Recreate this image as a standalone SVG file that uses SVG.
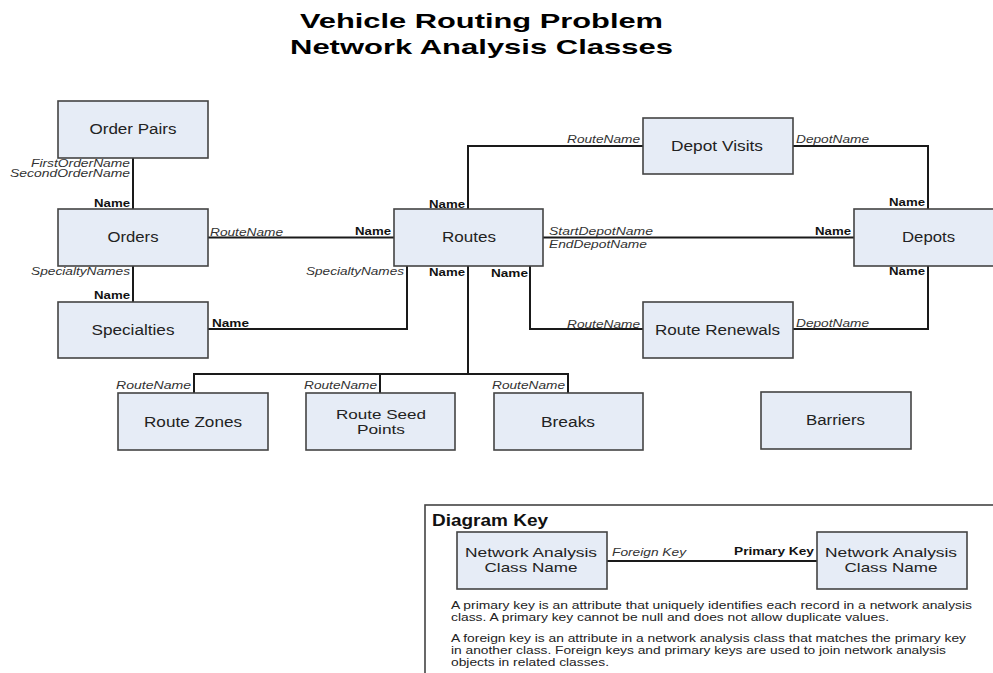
<svg xmlns="http://www.w3.org/2000/svg" width="993" height="673" viewBox="0 0 993 673">
  <style>
    text { font-family: "Liberation Sans", Arial, sans-serif; }
    .box { fill: #e6ecf6; stroke: #444; stroke-width: 1.6; }
    .lbl { font-size: 14px; fill: #222; text-anchor: middle; }
    .lbl2 { font-size: 13px; fill: #222; text-anchor: middle; }
    .pk { font-size: 10px; font-weight: bold; fill: #111; }
    .fk { font-size: 10px; font-style: italic; fill: #333; }
    .end { text-anchor: end; }
    .conn { fill: none; stroke: #1a1a1a; stroke-width: 2; }
    .title { font-size: 21px; font-weight: bold; fill: #000; text-anchor: middle; }
    .para { font-size: 10px; fill: #222; }
  </style>
  <rect width="993" height="673" fill="#fff"/>

  <text class="title" x="481.5" y="28" textLength="363" lengthAdjust="spacingAndGlyphs">Vehicle Routing Problem</text>
  <text class="title" x="481.5" y="54" textLength="383" lengthAdjust="spacingAndGlyphs">Network Analysis Classes</text>

  <!-- relationships -->
  <g id="connectors">
    <path class="conn" d="M133 158 V209"/>
    <path class="conn" d="M133 266 V302"/>
    <path class="conn" d="M208 237.5 H394"/>
    <path class="conn" d="M407 266 V329 H208"/>
    <path class="conn" d="M468 209 V146 H643"/>
    <path class="conn" d="M793 146 H928 V209"/>
    <path class="conn" d="M543 237.5 H854"/>
    <path class="conn" d="M530 266 V329 H643"/>
    <path class="conn" d="M793 329 H928 V266"/>
    <path class="conn" d="M468 266 V374"/>
    <path class="conn" d="M194 393 V374 H568 V393"/>
    <path class="conn" d="M380 374 V393"/>
  </g>

  <!-- key labels -->
  <g id="labels">
    <text class="fk end" x="130" y="167" textLength="99" lengthAdjust="spacingAndGlyphs">FirstOrderName</text>
    <text class="fk end" x="130" y="177" textLength="120" lengthAdjust="spacingAndGlyphs">SecondOrderName</text>
    <text class="pk end" x="130" y="207" textLength="36" lengthAdjust="spacingAndGlyphs">Name</text>
    <text class="fk end" x="130" y="275" textLength="99" lengthAdjust="spacingAndGlyphs">SpecialtyNames</text>
    <text class="pk end" x="130" y="299" textLength="36" lengthAdjust="spacingAndGlyphs">Name</text>
    <text class="fk" x="210" y="236" textLength="73" lengthAdjust="spacingAndGlyphs">RouteName</text>
    <text class="pk end" x="391" y="235" textLength="36" lengthAdjust="spacingAndGlyphs">Name</text>
    <text class="pk" x="212" y="327" textLength="37" lengthAdjust="spacingAndGlyphs">Name</text>
    <text class="fk end" x="404" y="275" textLength="98" lengthAdjust="spacingAndGlyphs">SpecialtyNames</text>
    <text class="pk end" x="465" y="208" textLength="36" lengthAdjust="spacingAndGlyphs">Name</text>
    <text class="pk end" x="465" y="276" textLength="36" lengthAdjust="spacingAndGlyphs">Name</text>
    <text class="pk" x="491" y="277" textLength="37" lengthAdjust="spacingAndGlyphs">Name</text>
    <text class="fk end" x="640" y="143" textLength="73" lengthAdjust="spacingAndGlyphs">RouteName</text>
    <text class="fk" x="796" y="143" textLength="73" lengthAdjust="spacingAndGlyphs">DepotName</text>
    <text class="pk end" x="925" y="206" textLength="36" lengthAdjust="spacingAndGlyphs">Name</text>
    <text class="fk" x="549" y="235" textLength="104" lengthAdjust="spacingAndGlyphs">StartDepotName</text>
    <text class="fk" x="549" y="248" textLength="98" lengthAdjust="spacingAndGlyphs">EndDepotName</text>
    <text class="pk end" x="851" y="235" textLength="36" lengthAdjust="spacingAndGlyphs">Name</text>
    <text class="pk end" x="925" y="275" textLength="36" lengthAdjust="spacingAndGlyphs">Name</text>
    <text class="fk end" x="640" y="328" textLength="73" lengthAdjust="spacingAndGlyphs">RouteName</text>
    <text class="fk" x="796" y="327" textLength="73" lengthAdjust="spacingAndGlyphs">DepotName</text>
    <text class="fk end" x="191" y="389" textLength="75" lengthAdjust="spacingAndGlyphs">RouteName</text>
    <text class="fk end" x="377" y="389" textLength="73" lengthAdjust="spacingAndGlyphs">RouteName</text>
    <text class="fk end" x="565" y="389" textLength="73" lengthAdjust="spacingAndGlyphs">RouteName</text>
  </g>

  <g id="order-pairs"><rect class="box" x="58" y="101" width="150" height="57"/><text class="lbl" x="133" y="134" textLength="87" lengthAdjust="spacingAndGlyphs">Order Pairs</text></g>
  <g id="orders"><rect class="box" x="58" y="209" width="150" height="57"/><text class="lbl" x="133" y="242" textLength="51" lengthAdjust="spacingAndGlyphs">Orders</text></g>
  <g id="specialties"><rect class="box" x="58" y="302" width="150" height="56"/><text class="lbl" x="133" y="335" textLength="83" lengthAdjust="spacingAndGlyphs">Specialties</text></g>
  <g id="routes"><rect class="box" x="394" y="209" width="149" height="57"/><text class="lbl" x="469" y="242" textLength="54" lengthAdjust="spacingAndGlyphs">Routes</text></g>
  <g id="depot-visits"><rect class="box" x="643" y="118" width="150" height="56"/><text class="lbl" x="717" y="151" textLength="92" lengthAdjust="spacingAndGlyphs">Depot Visits</text></g>
  <g id="depots"><rect class="box" x="854" y="209" width="150" height="57"/><text class="lbl" x="928.5" y="242" textLength="53" lengthAdjust="spacingAndGlyphs">Depots</text></g>
  <g id="route-renewals"><rect class="box" x="643" y="302" width="150" height="56"/><text class="lbl" x="717.5" y="335" textLength="125" lengthAdjust="spacingAndGlyphs">Route Renewals</text></g>
  <g id="route-zones"><rect class="box" x="118" y="393" width="150" height="57"/><text class="lbl" x="193" y="427" textLength="98" lengthAdjust="spacingAndGlyphs">Route Zones</text></g>
  <g id="route-seed-points"><rect class="box" x="306" y="393" width="149" height="57"/><text class="lbl2" x="381" y="419" textLength="90" lengthAdjust="spacingAndGlyphs">Route Seed</text><text class="lbl2" x="381" y="433.5" textLength="48" lengthAdjust="spacingAndGlyphs">Points</text></g>
  <g id="breaks"><rect class="box" x="494" y="393" width="149" height="57"/><text class="lbl" x="568" y="427" textLength="54" lengthAdjust="spacingAndGlyphs">Breaks</text></g>
  <g id="barriers"><rect class="box" x="761" y="392" width="150" height="57"/><text class="lbl" x="835.5" y="425" textLength="59" lengthAdjust="spacingAndGlyphs">Barriers</text></g>

  <!-- legend -->
  <g id="diagram-key">
    <rect x="425" y="505" width="580" height="180" fill="#fff" stroke="#444" stroke-width="1.6"/>
    <text x="432" y="526" font-size="16" font-weight="bold" fill="#111" textLength="116" lengthAdjust="spacingAndGlyphs">Diagram Key</text>
    <path class="conn" d="M607 561 H817"/>
    <rect class="box" x="457" y="532" width="150" height="57"/>
    <text class="lbl2" x="531" y="557" textLength="132" lengthAdjust="spacingAndGlyphs">Network Analysis</text>
    <text class="lbl2" x="531" y="571.5" textLength="93" lengthAdjust="spacingAndGlyphs">Class Name</text>
    <rect class="box" x="817" y="532" width="150" height="57"/>
    <text class="lbl2" x="891" y="557" textLength="132" lengthAdjust="spacingAndGlyphs">Network Analysis</text>
    <text class="lbl2" x="891" y="571.5" textLength="93" lengthAdjust="spacingAndGlyphs">Class Name</text>
    <text class="fk" x="612" y="556" textLength="74" lengthAdjust="spacingAndGlyphs">Foreign Key</text>
    <text class="pk end" x="814" y="555" textLength="80" lengthAdjust="spacingAndGlyphs">Primary Key</text>
    <text class="para" x="451" y="609" textLength="521" lengthAdjust="spacingAndGlyphs">A primary key is an attribute that uniquely identifies each record in a network analysis</text>
    <text class="para" x="451" y="621" textLength="438" lengthAdjust="spacingAndGlyphs">class. A primary key cannot be null and does not allow duplicate values.</text>
    <text class="para" x="451" y="642" textLength="515" lengthAdjust="spacingAndGlyphs">A foreign key is an attribute in a network analysis class that matches the primary key</text>
    <text class="para" x="451" y="654" textLength="495" lengthAdjust="spacingAndGlyphs">in another class. Foreign keys and primary keys are used to join network analysis</text>
    <text class="para" x="451" y="666" textLength="158" lengthAdjust="spacingAndGlyphs">objects in related classes.</text>
  </g>
</svg>
